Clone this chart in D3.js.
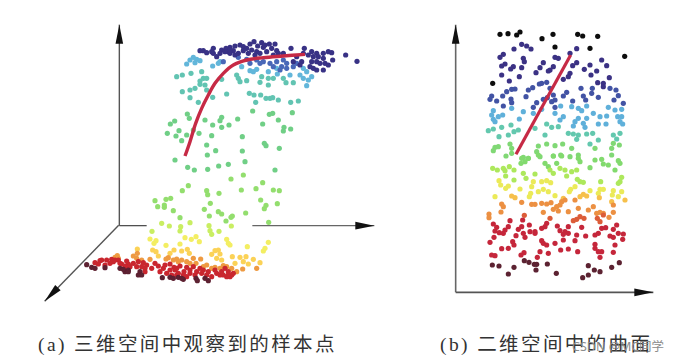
<!DOCTYPE html>
<html><head><meta charset="utf-8"><script src="https://cdn.jsdelivr.net/npm/d3@7"></script>
<style>html,body{margin:0;background:#fff}svg{display:block}</style></head><body><div id="c"></div>
<script>
// Panel (a), upper part
const aNavy=[[672,65],[695,68],[718,72],[735,72],[683,78],[700,82],[725,85],[630,75],[640,80],[615,78],[600,82],[588,85],[550,85],[575,90],[520,92],[510,92],[530,98],[550,100],[560,110],[570,100],[595,95],[610,92],[625,100],[640,92],[655,100],[680,95],[690,100],[710,95],[740,92],[783,85],[823,85],[860,100],[895,95],[905,98],[947,105],[981,124],[908,120],[880,115],[865,110],[835,105],[850,110],[860,125],[870,130],[885,130],[845,125],[815,125],[860,150],[880,150],[895,135],[600,100],[615,105],[650,85],[665,90],[705,75],[745,100],[800,110],[760,100],[820,100],[845,95],[880,100],[660,72],[730,105],[675,105],[790,125],[810,135],[840,140],[850,145],[600,90],[585,95],[545,95]];
const aBlue=[[800,130],[770,130],[755,140],[740,125],[720,130],[690,130],[680,120],[650,118],[625,112],[580,125],[760,120],[730,140],[700,125],[660,130],[790,140],[770,145],[750,150]];
const aSky=[[470,132],[480,120],[490,112],[500,118],[510,122],[495,128],[570,125],[565,130],[548,138],[635,140],[660,152],[670,155],[680,148],[740,145],[715,155],[820,145],[830,155],[845,170],[835,180],[820,175],[830,197],[742,162],[780,165],[810,165]];
const aTeal=[[440,170],[457,165],[483,160],[515,155],[575,178],[620,165],[625,175],[630,185],[650,182],[695,170],[690,187],[715,175],[730,175],[715,195],[760,175],[768,188],[790,188],[510,183],[510,193],[530,175],[520,175],[525,195],[530,210],[495,205],[480,210],[457,215],[480,233],[590,222],[548,232],[658,220],[672,225],[692,225],[708,235],[720,235],[728,233],[745,240],[782,247],[805,243],[677,247],[505,247]];
const aSea=[[668,273],[718,283],[728,280],[787,278],[745,300],[472,282],[478,295],[434,303],[421,312],[525,300],[575,292],[570,302],[623,297],[548,315],[575,322],[597,315],[698,312],[762,322],[782,327],[760,333],[447,332],[412,340],[438,348],[470,345],[490,330],[507,340],[545,347],[455,362],[637,350],[703,370],[708,377],[530,375],[748,385],[557,392],[637,393],[532,405],[645,425],[435,420],[473,442],[493,450],[533,448],[566,438],[595,433],[735,450]];
// Panel (a), lower part
const aGreen=[[603,57],[640,45],[457,92],[475,77],[530,92],[533,104],[567,100],[634,90],[678,86],[698,68],[730,90],[748,92],[692,120],[742,131],[708,136],[703,146],[375,122],[408,118],[422,115],[383,140],[403,135],[403,142],[430,152],[541,130],[523,148],[565,155],[575,162],[647,159],[450,173],[538,168],[607,168],[603,172],[588,183],[716,187]];
const aLime=[[395,190],[418,198],[452,200],[480,188],[450,213],[537,197],[540,212],[567,214],[604,198],[545,223],[366,214]];
const aYellow=[[360,237],[378,242],[372,250],[408,256],[450,252],[465,233],[484,238],[498,230],[508,245],[590,238],[600,255],[652,260],[715,247],[705,265],[700,273],[595,250]];
const aAmber=[[322,267],[368,270],[378,275],[385,288],[432,270],[420,280],[455,273],[472,268],[478,280],[565,270],[555,272],[545,283],[570,282],[560,295],[575,300],[607,290],[630,292],[648,290],[670,298],[690,308],[655,312],[640,305],[615,310]];
const aOrange=[[322,280],[310,288],[262,287],[255,292],[360,298],[415,293],[408,297],[440,297],[455,300],[470,305],[490,295],[512,297],[498,310],[530,315],[555,322],[580,317],[605,325],[620,335],[638,327],[680,325],[265,295],[320,295],[335,300],[430,300],[445,305],[480,310],[520,320],[545,325],[570,325],[590,320]];
const aRed=[[210,302],[195,308],[230,300],[245,298],[225,315],[240,310],[265,300],[290,303],[275,312],[295,312],[310,310],[325,305],[340,308],[350,315],[365,325],[385,318],[405,315],[420,312],[432,322],[450,318],[470,322],[490,320],[510,325],[390,335],[410,340],[435,330],[425,345],[445,340],[462,335],[480,330],[520,330],[530,345],[545,350],[555,330],[570,345],[585,325],[595,335],[605,345],[590,350],[575,335],[495,345],[255,300],[270,310],[285,318],[300,320],[320,320],[335,320],[345,325],[290,322],[375,310],[400,325],[420,330],[440,325],[460,345],[480,340],[500,335],[515,340],[535,335],[560,340],[580,345],[600,350],[610,340],[595,345],[250,305],[215,300],[205,312],[345,335],[440,345],[470,350]];
const aDark=[[170,314],[185,322],[195,325],[225,323],[270,325],[285,335],[295,330],[330,335],[335,345],[397,353],[420,352],[445,352],[460,358],[498,355],[502,362],[535,362],[280,328],[295,335],[325,345],[430,355],[455,355],[525,355]];
const aCurve=[[465,408],[480,365],[497,310],[515,265],[535,225],[555,190],[580,160],[610,135],[650,120],[700,113],[760,108],[825,103]];
// Panel (b), upper part
const bBlack=[[180,43],[204,41],[230,45],[240,36],[306,56],[339,43],[413,43],[428,48],[473,49],[345,81],[450,85],[554,109],[158,190]];
const bNavy=[[245,73],[260,78],[273,87],[222,87],[410,86],[190,103],[180,112],[390,100],[345,112],[355,115],[250,115],[253,125],[195,132],[185,138],[220,140],[212,147],[245,143],[310,128],[300,143],[288,158],[330,150],[325,153],[340,140],[410,128],[398,137],[390,160],[385,170],[370,178],[433,148],[450,135],[453,165],[470,153],[485,120],[500,137],[508,173],[185,165],[208,183],[238,170],[473,188],[490,190],[490,200]];
const bBlue=[[298,192],[320,187],[305,190],[225,207],[215,208],[200,215],[188,228],[155,228],[150,238],[170,243],[278,203],[265,210],[258,230],[213,237],[215,248],[330,205],[322,233],[310,238],[290,248],[280,262],[340,225],[345,240],[335,245],[370,228],[380,217],[398,243],[423,205],[430,228],[437,240],[457,205],[455,220],[510,205],[528,210],[535,227],[522,240],[550,250],[475,232],[190,258],[345,262]];
const bSky=[[215,265],[160,272],[155,285],[175,290],[188,285],[160,298],[165,305],[238,297],[250,275],[280,280],[305,268],[362,258],[395,260],[415,265],[425,272],[440,258],[460,280],[480,290],[505,262],[500,288],[525,270],[545,268],[533,290],[545,290],[540,305],[548,312],[415,295],[440,295],[405,305],[400,318],[430,310],[435,322],[475,312],[498,312],[370,290],[360,300],[345,280]];
const bTeal=[[145,332],[160,327],[185,322],[213,315],[235,330],[222,335],[205,345],[177,350],[285,325],[320,312],[335,322],[355,320],[315,345],[385,340],[400,342],[415,345],[440,342],[458,340],[410,358],[520,345],[540,340],[475,360],[450,372],[530,357]];
const bSea=[[165,382],[160,392],[175,380],[210,372],[215,385],[198,408],[295,378],[320,372],[345,377],[368,372],[290,395],[395,385],[465,385],[520,370],[515,385],[515,405],[538,375],[215,400],[250,412],[265,415],[300,410],[340,408],[362,405],[390,410],[415,405]];
const bLine=[[228,403],[392,105]];
// Panel (b), lower part
const bGreen=[[245,25],[265,25],[255,35],[243,40],[295,15],[315,40],[340,18],[365,18],[350,40],[325,50],[415,25],[420,35],[465,30],[485,28],[505,45],[535,32],[540,40],[490,42],[525,60],[450,53]];
const bLime=[[158,55],[172,60],[190,55],[195,62],[208,50],[222,60],[197,78],[222,90],[250,70],[258,85],[285,72],[330,60],[340,70],[360,55],[375,60],[395,65],[410,60],[380,78],[412,88],[430,97],[420,95],[482,95],[545,82],[540,95],[535,100]];
const bYellow=[[177,92],[182,105],[205,108],[197,115],[240,117],[280,95],[275,110],[305,95],[320,92],[332,98],[295,125],[310,118],[325,125],[345,137],[272,130],[268,140],[165,140],[405,110],[392,118],[388,125],[450,122],[480,118],[490,118],[475,130],[520,122],[517,135],[545,125],[535,140]];
const bAmber=[[215,138],[225,143],[370,145],[430,133],[440,138],[420,140],[478,143],[555,150],[515,155]];
const bOrange=[[185,162],[190,170],[183,186],[245,157],[275,163],[285,163],[305,160],[320,162],[333,158],[310,187],[350,170],[360,165],[340,178],[355,183],[375,150],[365,155],[385,185],[405,150],[415,175],[460,170],[445,180],[520,165],[470,190],[490,190],[480,187],[520,187],[507,202],[147,192],[147,203]];
const bCoral=[[253,196],[330,205],[400,212],[410,208],[420,200],[432,205],[472,205],[480,215],[490,195]];
const bRed=[[210,212],[160,222],[248,210],[268,225],[170,232],[165,243],[178,248],[205,230],[195,240],[190,250],[245,230],[235,238],[250,250],[255,262],[270,245],[285,245],[228,257],[162,262],[150,277],[218,275],[222,285],[205,295],[185,296],[320,220],[315,230],[305,235],[352,228],[360,242],[375,245],[385,230],[385,250],[370,253],[425,232],[410,255],[405,272],[370,270],[345,280],[305,272],[310,280],[320,285],[285,250],[437,258],[465,255],[475,250],[485,235],[497,233],[510,258],[520,262],[530,225],[520,238],[535,250],[550,252],[548,268],[525,285],[465,283],[465,295],[475,305],[485,305],[413,305],[385,297],[362,300],[300,305],[325,310],[252,308],[243,315],[520,307],[480,322],[292,322],[165,317],[155,315]];
const bDark=[[253,332],[267,337],[283,343],[290,343],[322,342],[157,345],[177,348],[222,352],[205,372],[288,360],[349,370],[445,347],[463,360],[480,365],[445,375],[428,383],[515,352],[538,338]];
// Text
const captionA="(a) 三维空间中观察到的样本点";
const captionB="(b) 二维空间中的曲面";
const watermark="CSDN @MC同学";

const svg=d3.select("#c").append("svg").attr("width",693).attr("height",364);
const defs=svg.append("defs");
defs.append("filter").attr("id","soft").append("feGaussianBlur").attr("stdDeviation",0.45);
const xA=d3.scaleLinear([0,1050],[30,380]);
const yA1=d3.scaleLinear([0,450],[20,170]);
const yA2=d3.scaleLinear([0,450],[160,310]);
const xB=d3.scaleLinear([0,660],[440,660]);
const yB1=d3.scaleLinear([0,420],[20,160]);
const yB2=d3.scaleLinear([0,450],[150,300]);

function arrow(x1,y1,x2,y2,stroke,w){
  svg.append("line").attr("x1",x1).attr("y1",y1).attr("x2",x2).attr("y2",y2).attr("stroke",stroke).attr("stroke-width",w);
  const a=Math.atan2(y2-y1,x2-x1),L=19,H=3.8;
  const p=(d,o)=>[x2-d*Math.cos(a)-o*Math.sin(a),y2-d*Math.sin(a)+o*Math.cos(a)];
  svg.append("path").attr("d",d3.line()([p(0,0),p(L,H),p(L,-H)])+"Z").attr("fill","#111");
}
arrow(xA(268),yA2(197),xA(268),yA1(14),"#555",1.4);
svg.append("line").attr("x1",xA(268)).attr("y1",yA2(197)).attr("x2",xA(350)).attr("y2",yA2(197)).attr("stroke","#444").attr("stroke-width",1.2);
arrow(xA(667),yA2(197),xA(1033),yA2(197),"#666",1.4);
arrow(xA(266),yA2(196),xA(44),yA2(424),"#555",1.4);
arrow(xB(47),yB2(427),xB(47),yB1(14),"#666",1.6);
arrow(xB(47),yB2(427),xB(640),yB2(427),"#555",1.6);

const dotLayer=svg.append("g").attr("filter","url(#soft)");
function dots(data,x,y,color){
  dotLayer.append("g").attr("fill",color).selectAll("circle").data(data).join("circle")
    .attr("cx",d=>x(d[0])).attr("cy",d=>y(d[1])).attr("r",2.6);
}
[[aSky,yA1,"#62b6da"],[aTeal,yA1,"#62c4b2"],[aSea,yA1,"#70cf86"],[aBlue,yA1,"#4a68b8"],[aNavy,yA1,"#383085"],
 [aGreen,yA2,"#93de6e"],[aLime,yA2,"#c9ee62"],[aYellow,yA2,"#f3ee62"],[aAmber,yA2,"#fbd257"],[aOrange,yA2,"#ee9a42"],[aRed,yA2,"#c9262f"],[aDark,yA2,"#5d2030"]]
 .forEach(s=>dots(s[0],xA,s[1],s[2]));
[[bBlack,yB1,"#111"],[bNavy,yB1,"#3b3084"],[bBlue,yB1,"#4252a4"],[bSky,yB1,"#5fb0da"],[bTeal,yB1,"#64c8ae"],[bSea,yB1,"#80d874"],
 [bGreen,yB2,"#82da6e"],[bLime,yB2,"#ade85c"],[bYellow,yB2,"#ebea58"],[bAmber,yB2,"#f6c04c"],[bOrange,yB2,"#ec9042"],[bCoral,yB2,"#dc5c38"],[bRed,yB2,"#c5283a"],[bDark,yB2,"#5c2330"]]
 .forEach(s=>dots(s[0],xB,s[1],s[2]));

svg.append("path").attr("d",d3.line().x(d=>xA(d[0])).y(d=>yA1(d[1])).curve(d3.curveCatmullRom)(aCurve))
  .attr("fill","none").attr("stroke","#c62a45").attr("stroke-width",3.4);
svg.append("path").attr("d",d3.line().x(d=>xB(d[0])).y(d=>yB1(d[1]))(bLine))
  .attr("fill","none").attr("stroke","#c62a45").attr("stroke-width",3.2);

function caption(t,x){
  svg.append("text").attr("x",x).attr("y",351).text(t).attr("fill","#333")
   .attr("font-family","'Liberation Serif','Noto Sans CJK SC',serif").attr("font-size",19.5).attr("letter-spacing",2.4);
}
caption(captionA,38);
caption(captionB,440);
svg.append("text").attr("x",572).attr("y",351).text(watermark).attr("fill","#8c8c8c")
  .attr("font-family","'Noto Sans',' Noto Sans CJK SC','Noto Sans CJK SC',sans-serif").attr("font-size",12.5);
</script></body></html>
